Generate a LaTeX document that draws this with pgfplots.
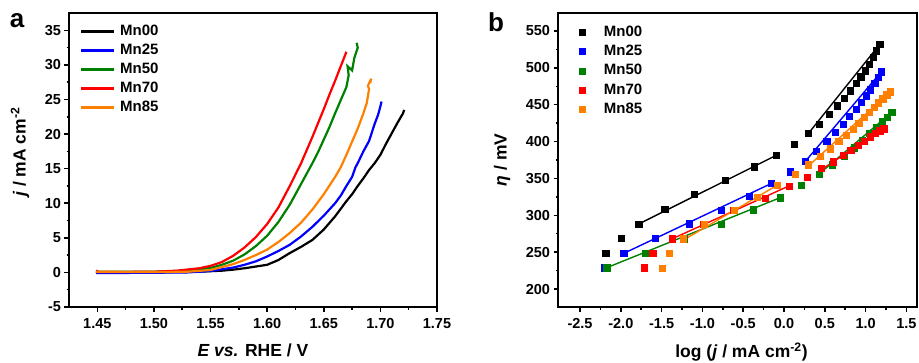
\documentclass[border=0pt]{standalone}
\usepackage{pgfplots}
\pgfplotsset{compat=1.18}
\usepackage{fontspec}
\setmainfont{Liberation Sans}
\definecolor{cblack}{RGB}{0,0,0}
\definecolor{cblue}{RGB}{0,0,255}
\definecolor{cgreen}{RGB}{0,128,0}
\definecolor{cred}{RGB}{255,0,0}
\definecolor{corange}{RGB}{255,128,0}
\newcommand{\tickfont}{\fontsize{14.5}{16}\selectfont\bfseries}
\newcommand{\labfont}{\fontsize{17.5}{20}\selectfont\bfseries}
\newcommand{\legfont}{\fontsize{15}{17}\selectfont\bfseries}
\pgfplotsset{
  common/.style={
    scale only axis,
    anchor=south west,
    axis line style={line width=2pt},
    tick pos=left,
    tick align=outside,
    major tick length=4.5pt,
    minor tick length=2.5pt,
    every tick/.style={line width=1.5pt,black},
    tick label style={font=\tickfont},
    xticklabel style={yshift=-3pt},
    /pgf/number format/assume math mode=true,
    label style={font=\labfont},
    legend cell align=left,
  },
  lsv/.style={#1,line width=2.2pt,no marks},
  sc/.style={#1,only marks,mark=square*,mark size=3.1pt},
  fit/.style={#1,no marks,line width=1.4pt,forget plot},
}
\begin{document}
\begin{tikzpicture}[x=1pt,y=1pt]
\path[use as bounding box] (0pt,0pt) rectangle (919pt,362pt);
\node[font=\fontsize{26}{28}\selectfont\bfseries] at (17pt,341pt) {a};
\node[font=\fontsize{26}{28}\selectfont\bfseries] at (496pt,340pt) {b};
% ---------------- panel a ----------------
\begin{axis}[common, name=A,
  at={(69pt,55pt)}, width=368pt, height=294pt,
  xmin=1.425, xmax=1.75, ymin=-5, ymax=37.5,
  xtick={1.45,1.50,1.55,1.60,1.65,1.70,1.75},
  xticklabel style={/pgf/number format/.cd,fixed,fixed zerofill,precision=2},
  ytick={-5,0,5,10,15,20,25,30,35},
  minor x tick num=1, minor y tick num=1,
  xlabel={\textit{E vs.} RHE / V},
  ylabel={\textit{j} / mA cm\textsuperscript{-2}},
  xlabel style={at={(axis description cs:0.5,-0.146)},anchor=center},
  ylabel style={at={(axis description cs:-0.133,0.527)},anchor=center},
  legend style={draw=none,fill=none,at={(axis description cs:0.030,0.961)},anchor=north west,
    inner sep=0pt,outer sep=0pt,row sep=5pt,column sep=5pt,font=\legfont,
    nodes={inner sep=0pt,text height=11pt,text depth=3pt}},
  legend image code/.code={\draw[#1] (0pt,0pt) -- (33pt,0pt);},
]
\addplot[lsv=cblack] coordinates {
(1.449,0.1)(1.45,0.0)(1.50,0.0)(1.52,0.05)(1.54,0.1)(1.56,0.25)(1.57,0.4)(1.58,0.6)(1.59,0.85)
(1.60,1.1)(1.61,1.8)(1.62,2.8)(1.63,3.7)(1.64,4.7)(1.65,6.2)(1.66,8.1)(1.67,10.3)(1.675,11.3)(1.68,12.5)
(1.685,13.6)(1.69,14.8)(1.695,15.8)(1.70,17.0)(1.705,18.6)(1.71,20.1)(1.715,21.6)(1.72,23.0)(1.721,23.5)};
\addlegendentry{Mn00}
\addplot[lsv=cblue] coordinates {
(1.449,-0.1)(1.50,-0.05)(1.53,0.0)(1.55,0.2)(1.57,0.7)(1.58,1.1)(1.59,1.6)(1.60,2.3)(1.61,3.1)
(1.62,4.0)(1.63,5.2)(1.64,6.6)(1.65,8.2)(1.66,10.0)(1.665,11.1)(1.67,12.5)(1.675,13.8)(1.678,15.2)(1.68,15.8)
(1.685,17.5)(1.69,19.0)(1.695,21.5)(1.698,22.8)(1.70,24.0)(1.701,24.7)};
\addlegendentry{Mn25}
\addplot[lsv=cgreen] coordinates {
(1.449,0.1)(1.50,0.1)(1.52,0.2)(1.54,0.45)(1.55,0.65)(1.56,1.1)(1.57,1.7)(1.58,2.6)(1.59,3.8)
(1.60,5.3)(1.61,7.3)(1.62,9.8)(1.63,12.8)(1.64,15.8)(1.645,17.4)(1.65,19.2)(1.655,21.0)(1.66,23.0)
(1.665,24.9)(1.67,26.8)(1.672,28.5)(1.671,29.8)(1.675,29.2)(1.677,31.0)(1.679,32.0)(1.68,32.5)(1.679,33.2)};
\addlegendentry{Mn50}
\addplot[lsv=cred] coordinates {
(1.449,0.3)(1.451,0.05)(1.50,0.1)(1.52,0.25)(1.54,0.6)(1.55,0.95)(1.56,1.5)(1.57,2.4)(1.58,3.6)
(1.59,5.1)(1.60,7.0)(1.61,9.4)(1.62,12.5)(1.63,15.8)(1.64,19.6)(1.645,21.6)(1.65,23.6)(1.655,25.7)
(1.66,27.7)(1.665,29.8)(1.67,31.9)};
\addlegendentry{Mn70}
\addplot[lsv=corange] coordinates {
(1.449,0.1)(1.50,0.05)(1.53,0.1)(1.55,0.35)(1.57,1.2)(1.58,1.8)(1.59,2.5)(1.60,3.3)(1.61,4.4)
(1.62,5.7)(1.63,7.2)(1.64,9.1)(1.65,11.3)(1.66,13.8)(1.665,15.2)(1.67,17.0)(1.675,18.9)(1.68,20.8)
(1.685,23.0)(1.688,24.5)(1.69,26.5)(1.689,27.0)(1.692,28.0)(1.691,27.4)};
\addlegendentry{Mn85}
\end{axis}
% ---------------- panel b ----------------
\begin{axis}[common, name=B,
  at={(558pt,55pt)}, width=359pt, height=294pt,
  xmin=-2.77, xmax=1.63, ymin=175.6, ymax=574.4,
  xtick={-2.5,-2,-1.5,-1,-0.5,0,0.5,1,1.5},
  xticklabel style={/pgf/number format/.cd,fixed,fixed zerofill,precision=1},
  ytick={200,250,300,350,400,450,500,550},
  minor x tick num=1, minor y tick num=1,
  xlabel={log (\textit{j} / mA cm\textsuperscript{-2})},
  ylabel={\textit{η} / mV},
  xlabel style={at={(axis description cs:0.511,-0.153)},anchor=center},
  ylabel style={at={(axis description cs:-0.156,0.5)},anchor=center},
  legend style={draw=none,fill=none,at={(axis description cs:0.036,0.958)},anchor=north west,
    inner sep=0pt,outer sep=0pt,row sep=5.25pt,column sep=11pt,font=\legfont,
    nodes={inner sep=0pt,text height=11pt,text depth=3pt}},
  legend image code/.code={\path[draw=none,fill=none] (0pt,0pt) -- (22pt,0pt);\draw[#1,only marks] plot coordinates {(11pt,0pt)};},
]
\addplot[sc=cblack] coordinates {
(-2.186,248.3)(-1.994,268.7)(-1.782,288.1)(-1.463,308.5)(-1.096,328.8)(-0.716,347.4)(-0.369,365.9)
(-0.096,381.3)(0.124,396.7)(0.300,411.2)(0.431,423.8)(0.549,437.4)(0.651,448.7)(0.733,459.1)
(0.814,469.0)(0.880,479.0)(0.941,488.0)(0.994,496.2)(1.043,505.2)(1.092,514.3)(1.133,523.3)(1.173,531.9)};
\addlegendentry{Mn00}
\addplot[sc=cblue] coordinates {
(-2.206,228.9)(-1.965,248.3)(-1.582,268.7)(-1.161,288.6)(-0.765,307.1)(-0.422,325.7)(-0.153,343.3)
(0.071,359.1)(0.255,373.6)(0.394,387.2)(0.524,400.3)(0.631,412.5)(0.724,423.8)(0.802,434.2)
(0.880,444.2)(0.945,453.7)(1.006,462.3)(1.059,470.4)(1.112,479.0)(1.157,487.1)(1.194,494.8)};
\addlegendentry{Mn25}
\addplot[sc=cgreen] coordinates {
(-2.173,228.9)(-1.696,248.3)(-1.227,268.2)(-0.765,287.7)(-0.373,307.6)(-0.047,323.9)(0.210,340.6)
(0.427,356.0)(0.594,368.6)(0.737,380.4)(0.859,391.7)(0.961,401.7)(1.051,411.2)(1.133,419.7)
(1.206,427.9)(1.267,432.9)(1.320,439.6)};
\addlegendentry{Mn50}
\addplot[sc=cred] coordinates {
(-1.712,228.9)(-1.610,248.3)(-1.369,268.2)(-0.990,288.1)(-0.622,307.1)(-0.235,323.4)(0.059,339.7)
(0.288,351.4)(0.459,363.7)(0.606,372.7)(0.724,381.7)(0.818,388.5)(0.908,394.9)(0.982,400.3)
(1.055,406.6)(1.116,411.2)(1.173,414.8)(1.222,417.5)};
\addlegendentry{Mn70}
\addplot[sc=corange] coordinates {
(-1.492,228.0)(-1.406,248.3)(-1.231,268.2)(-0.982,287.7)(-0.614,307.1)(-0.324,324.3)(-0.080,341.0)
(0.133,355.5)(0.300,368.6)(0.447,379.9)(0.569,390.3)(0.671,400.3)(0.765,408.9)(0.847,417.0)
(0.916,425.2)(0.986,432.9)(1.047,439.6)(1.104,446.4)(1.157,452.8)(1.210,458.2)(1.259,463.6)(1.304,467.7)};
\addlegendentry{Mn85}
% linear fits
\addplot[fit=cblack] coordinates {(-1.782,288.1)(-0.096,381.3)};
\addplot[fit=cblack] coordinates {(0.292,410.0)(1.173,531.9)};
\addplot[fit=cblue] coordinates {(-1.965,248.3)(-0.153,343.3)};
\addplot[fit=cblue] coordinates {(0.255,372.3)(1.194,494.8)};
\addplot[fit=cgreen] coordinates {(-2.173,228.9)(-0.047,323.9)};
\addplot[fit=cgreen] coordinates {(0.414,354.6)(1.320,439.6)};
\addplot[fit=cred] coordinates {(-1.369,268.2)(0.059,339.7)};
\addplot[fit=cred] coordinates {(0.459,362.0)(1.222,417.5)};
\addplot[fit=corange] coordinates {(-1.231,266.5)(-0.080,341.0)};
\addplot[fit=corange] coordinates {(0.300,367.0)(1.304,467.7)};
\end{axis}
\draw[black,line width=2pt] (69pt,55pt) rectangle (437pt,349pt);
\draw[black,line width=2pt] (558pt,55pt) rectangle (917pt,349pt);
\end{tikzpicture}
\end{document}
